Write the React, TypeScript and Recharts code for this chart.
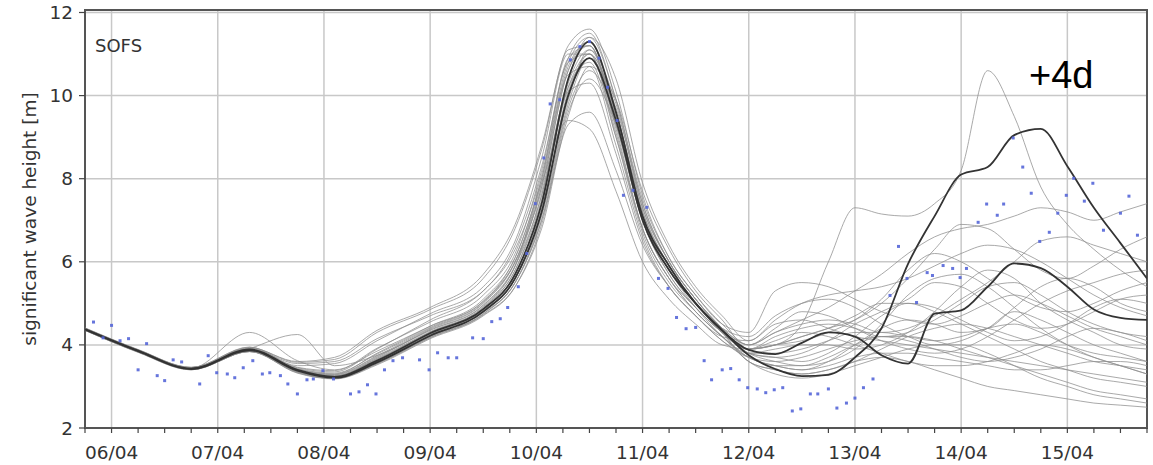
import React from 'react';
import { ComposedChart, Line, Scatter, XAxis, YAxis, CartesianGrid, ReferenceArea, ReferenceLine } from 'recharts';

// time axis in days of April (fractional)
const times = [5.75, 6.25, 6.75, 7.3, 7.75, 8.1, 8.5, 9.0, 9.5, 9.8, 10.05, 10.3, 10.5, 10.75, 11.0, 11.25, 11.5, 11.75,
  12.0, 12.25, 12.5, 12.75, 13.0, 13.25, 13.5, 13.75, 14.0, 14.25, 14.5, 14.75, 15.0, 15.25, 15.5, 15.75];

// ensemble members (significant wave height, m)
const m01 = [4.40, 3.88, 3.45, 3.93, 3.60, 3.70, 4.35, 4.90, 5.70, 6.9, 8.8, 11.2, 11.6, 10.1, 7.6, 6.1, 5.2, 4.5, 4.3, 5.3, 5.5, 5.4, 5.1, 4.8, 4.6, 4.5, 4.7, 5.0, 5.2, 5.0, 4.7, 4.4, 4.2, 4.0];
const m02 = [4.38, 3.86, 3.43, 3.90, 3.45, 3.35, 3.90, 4.60, 5.30, 6.3, 8.1, 10.8, 11.4, 9.9, 7.4, 6.0, 5.1, 4.4, 4.2, 4.7, 5.0, 5.1, 4.9, 4.5, 4.2, 4.0, 4.1, 4.4, 4.8, 4.6, 4.3, 4.0, 3.8, 3.6];
const m03 = [4.36, 3.84, 3.42, 3.87, 3.40, 3.25, 3.65, 4.30, 4.90, 5.8, 7.6, 10.2, 11.0, 9.6, 7.1, 5.8, 5.0, 4.3, 3.9, 4.0, 4.5, 6.0, 7.3, 7.15, 7.1, 7.4, 8.2, 10.6, 9.5, 7.8, 6.9, 6.3, 5.8, 5.4];
const m04 = [4.37, 3.85, 3.43, 3.88, 3.38, 3.22, 3.60, 4.25, 4.82, 5.6, 7.3, 9.9, 11.1, 9.8, 7.3, 6.0, 5.1, 4.4, 4.0, 4.3, 4.6, 4.9, 5.3, 5.7, 6.2, 6.6, 6.8, 6.9, 7.1, 7.3, 7.2, 7.0, 7.2, 7.4];
const m05 = [4.35, 3.83, 3.41, 3.85, 3.35, 3.20, 3.56, 4.20, 4.75, 5.5, 7.0, 9.5, 10.7, 9.9, 7.7, 6.3, 5.3, 4.6, 3.9, 4.0, 4.2, 4.4, 4.6, 5.0, 5.6, 6.3, 6.9, 6.8, 6.3, 5.8, 5.6, 5.9, 6.3, 6.6];
const m06 = [4.39, 3.87, 3.44, 3.91, 4.25, 3.50, 3.75, 4.35, 4.95, 5.9, 7.8, 10.6, 11.3, 9.5, 7.0, 5.7, 4.9, 4.3, 3.8, 3.7, 3.8, 4.1, 4.5, 4.8, 5.1, 5.5, 5.4, 5.0, 4.6, 4.4, 4.5, 4.8, 5.1, 5.2];
const m07 = [4.38, 3.86, 3.44, 4.30, 3.62, 3.40, 3.85, 4.45, 5.05, 6.1, 8.0, 10.9, 11.2, 9.2, 6.8, 5.6, 4.8, 4.2, 3.7, 3.5, 3.4, 3.6, 4.0, 4.4, 4.6, 4.5, 4.3, 4.4, 4.9, 5.4, 5.6, 5.4, 5.0, 4.8];
const m08 = [4.36, 3.84, 3.41, 3.84, 3.34, 3.19, 3.55, 4.18, 4.72, 5.4, 6.8, 9.3, 9.6, 8.2, 6.4, 5.4, 4.7, 4.2, 4.1, 4.5, 4.6, 4.4, 4.2, 4.1, 4.0, 3.9, 3.8, 3.7, 3.6, 3.5, 3.4, 3.3, 3.2, 3.1];
const m09 = [4.37, 3.85, 3.42, 3.86, 3.37, 3.24, 3.68, 4.32, 4.92, 5.9, 7.9, 9.4, 9.2, 7.7, 6.0, 5.1, 4.5, 4.0, 3.9, 4.2, 4.4, 4.5, 4.4, 4.2, 4.3, 4.6, 5.0, 5.4, 5.5, 5.2, 4.8, 4.5, 4.3, 4.2];
const m10 = [4.41, 3.89, 3.46, 3.95, 3.50, 3.55, 4.10, 4.75, 5.40, 6.5, 8.5, 11.0, 11.0, 9.0, 6.7, 5.5, 4.8, 4.2, 3.8, 3.9, 4.0, 4.0, 3.9, 4.0, 4.3, 4.8, 5.4, 5.8, 5.6, 5.0, 4.6, 4.3, 4.0, 3.9];
const m11 = [4.35, 3.82, 3.40, 3.84, 3.32, 3.18, 3.52, 4.15, 4.70, 5.4, 6.9, 9.6, 10.4, 9.3, 7.2, 5.9, 5.0, 4.3, 3.6, 3.4, 3.3, 3.4, 3.6, 3.9, 4.2, 4.4, 4.5, 4.4, 4.2, 4.0, 3.8, 3.6, 3.5, 3.4];
const m12 = [4.38, 3.86, 3.43, 3.89, 3.42, 3.30, 3.80, 4.45, 5.10, 6.1, 8.0, 10.5, 10.7, 8.8, 6.6, 5.4, 4.7, 4.1, 3.7, 3.6, 3.7, 3.9, 4.1, 4.2, 4.1, 3.9, 3.7, 3.6, 3.7, 3.9, 4.2, 4.4, 4.3, 4.1];
const m13 = [4.40, 3.88, 3.45, 3.92, 3.55, 3.60, 4.15, 4.70, 5.30, 6.4, 8.3, 10.9, 11.5, 9.9, 7.5, 6.1, 5.2, 4.5, 4.0, 4.4, 4.8, 4.7, 4.4, 4.1, 3.9, 3.8, 3.9, 4.2, 4.6, 5.0, 5.3, 5.5, 5.7, 5.8];
const m14 = [4.36, 3.84, 3.42, 3.86, 3.36, 3.21, 3.60, 4.24, 4.80, 5.6, 7.2, 10.0, 11.0, 9.6, 7.2, 5.9, 5.0, 4.3, 3.8, 3.6, 3.5, 3.6, 3.9, 4.5, 5.2, 5.6, 5.7, 5.4, 4.9, 4.4, 4.0, 3.7, 3.5, 3.3];
const m15 = [4.37, 3.85, 3.43, 3.88, 3.39, 3.26, 3.70, 4.38, 5.00, 6.0, 7.9, 10.7, 11.3, 9.6, 7.1, 5.8, 5.0, 4.3, 3.9, 4.1, 4.3, 4.2, 4.0, 3.8, 3.6, 3.5, 3.5, 3.6, 3.8, 4.0, 3.9, 3.7, 3.5, 3.3];
const m16 = [4.39, 3.87, 3.44, 3.90, 3.43, 3.32, 3.78, 4.42, 5.05, 6.0, 7.7, 10.1, 10.3, 8.6, 6.5, 5.4, 4.7, 4.1, 3.7, 3.5, 3.5, 3.7, 4.0, 4.2, 4.2, 4.1, 3.9, 3.7, 3.5, 3.3, 3.1, 2.9, 2.8, 2.7];
const m17 = [4.38, 3.86, 3.44, 3.89, 3.40, 3.28, 3.72, 4.36, 4.96, 5.9, 7.6, 10.4, 11.4, 10.4, 7.9, 6.4, 5.4, 4.7, 4.1, 4.6, 5.0, 5.2, 5.3, 5.4, 5.6, 5.9, 6.2, 6.4, 6.3, 6.0, 5.6, 5.2, 4.9, 4.7];
const m18 = [4.36, 3.83, 3.41, 3.85, 3.35, 3.20, 3.58, 4.22, 4.78, 5.5, 7.1, 9.8, 10.9, 9.7, 7.4, 6.0, 5.1, 4.4, 3.8, 3.8, 3.9, 4.1, 4.3, 4.3, 4.2, 4.1, 4.2, 4.4, 4.5, 4.3, 4.0, 3.8, 3.7, 3.6];
const m19 = [4.37, 3.85, 3.43, 3.87, 3.38, 3.23, 3.63, 4.28, 4.86, 5.7, 7.4, 10.2, 10.8, 9.0, 6.8, 5.6, 4.8, 4.2, 3.6, 3.3, 3.2, 3.3, 3.5, 3.7, 3.9, 4.0, 4.0, 3.8, 3.5, 3.2, 3.0, 2.8, 2.7, 2.6];
const m20 = [4.40, 3.88, 3.46, 3.94, 3.58, 3.65, 4.30, 4.85, 5.60, 6.8, 8.7, 11.1, 11.2, 9.3, 7.0, 5.7, 4.9, 4.3, 3.9, 4.0, 4.1, 4.3, 4.6, 5.1, 5.8, 6.2, 6.0, 5.6, 5.2, 4.9, 4.8, 5.0, 5.3, 5.5];
const m21 = [4.35, 3.83, 3.40, 3.84, 3.33, 3.19, 3.54, 4.17, 4.74, 5.5, 7.0, 9.7, 10.6, 9.5, 7.3, 6.0, 5.1, 4.4, 3.8, 3.7, 3.6, 3.8, 4.2, 4.7, 5.0, 4.9, 4.6, 4.3, 4.1, 4.2, 4.5, 4.9, 5.1, 5.0];
const m22 = [4.38, 3.86, 3.43, 3.89, 3.41, 3.29, 3.74, 4.40, 5.02, 6.0, 7.8, 10.6, 11.2, 9.4, 7.0, 5.8, 5.0, 4.4, 4.0, 4.3, 4.5, 4.6, 4.5, 4.3, 4.4, 4.7, 5.1, 5.5, 6.0, 6.5, 6.6, 6.4, 6.2, 6.0];
const m23 = [4.36, 3.84, 3.42, 3.86, 3.37, 3.22, 3.62, 4.26, 4.83, 5.6, 7.2, 10.1, 10.9, 9.3, 7.0, 5.8, 4.9, 4.2, 3.7, 3.5, 3.4, 3.5, 3.7, 3.8, 3.8, 3.7, 3.6, 3.5, 3.4, 3.4, 3.5, 3.6, 3.6, 3.5];
const m24 = [4.39, 3.87, 3.45, 3.91, 3.46, 3.38, 3.92, 4.55, 5.20, 6.2, 8.2, 10.8, 11.0, 9.1, 6.8, 5.6, 4.9, 4.3, 3.9, 4.0, 4.2, 4.4, 4.7, 5.0, 5.0, 4.8, 4.5, 4.2, 3.9, 3.6, 3.4, 3.2, 3.1, 3.0];
const m25 = [4.37, 3.85, 3.42, 3.87, 3.39, 3.25, 3.66, 4.30, 4.88, 5.8, 7.5, 10.3, 11.1, 9.5, 7.1, 5.8, 5.0, 4.3, 3.6, 3.4, 3.3, 3.4, 3.6, 3.7, 3.6, 3.4, 3.2, 3.0, 2.9, 2.8, 2.7, 2.6, 2.55, 2.5];

// two highlighted (dark) runs
const darkA = [4.38, 3.86, 3.43, 3.89, 3.40, 3.23, 3.62, 4.28, 4.86, 5.7, 7.4, 10.4, 11.3, 9.6, 7.1, 5.9, 5.0, 4.35, 3.75, 3.42, 3.25, 3.28, 3.7, 4.4, 5.95, 7.1, 8.1, 8.28, 9.05, 9.2, 8.3, 7.3, 6.45, 5.6];
const darkB = [4.37, 3.85, 3.42, 3.87, 3.38, 3.21, 3.58, 4.22, 4.80, 5.6, 7.2, 10.0, 10.9, 9.4, 7.0, 5.8, 5.0, 4.35, 3.88, 3.78, 4.05, 4.3, 4.2, 3.75, 3.55, 4.75, 4.83, 5.4, 5.96, 5.85, 5.4, 4.85, 4.65, 4.6];

// observations
const obsTimes = [5.83, 5.92, 6.00, 6.08, 6.16, 6.25, 6.33, 6.43, 6.50, 6.58, 6.66, 6.83, 6.91, 6.99, 7.09, 7.16, 7.24, 7.33, 7.42, 7.49,
  7.59, 7.66, 7.75, 7.84, 7.90, 7.99, 8.09, 8.25, 8.33, 8.41, 8.49, 8.57, 8.65, 8.74, 8.90, 8.99, 9.07, 9.17, 9.25, 9.40,
  9.50, 9.58, 9.66, 9.73, 9.83, 9.91, 9.99, 10.07, 10.13, 10.22, 10.32, 10.41, 10.50, 10.59, 10.67, 10.76, 10.82, 10.91, 11.04, 11.15,
  11.24, 11.32, 11.41, 11.50, 11.58, 11.65, 11.75, 11.83, 11.91, 11.99, 12.08, 12.16, 12.24, 12.32, 12.41, 12.49, 12.58, 12.65, 12.75, 12.83,
  12.92, 13.00, 13.08, 13.17, 13.33, 13.41, 13.49, 13.58, 13.68, 13.73, 13.83, 13.92, 13.99, 14.05, 14.16, 14.24, 14.34, 14.40, 14.49, 14.58,
  14.66, 14.74, 14.83, 14.91, 14.99, 15.06, 15.16, 15.24, 15.34, 15.50, 15.58, 15.66];
const obsValues = [4.55, 4.17, 4.47, 4.10, 4.15, 3.40, 4.03, 3.26, 3.14, 3.64, 3.59, 3.06, 3.74, 3.33, 3.30, 3.21, 3.45, 3.62, 3.30, 3.33,
  3.26, 3.06, 2.82, 3.16, 3.18, 3.38, 3.18, 2.82, 2.87, 3.04, 2.82, 3.40, 3.62, 3.69, 3.64, 3.40, 3.81, 3.69, 3.69, 4.17,
  4.15, 4.56, 4.63, 4.90, 5.40, 6.20, 7.40, 8.50, 9.80, 9.90, 10.86, 11.18, 11.30, 10.90, 10.20, 9.40, 7.60, 7.72, 7.31, 5.60,
  5.36, 4.66, 4.39, 4.42, 3.62, 3.16, 3.40, 3.43, 3.16, 2.97, 2.94, 2.85, 2.92, 2.97, 2.41, 2.46, 2.82, 2.82, 2.94, 2.48,
  2.60, 2.72, 2.97, 3.18, 5.19, 6.37, 5.60, 5.02, 5.74, 5.67, 5.91, 5.84, 5.62, 5.84, 6.95, 7.39, 7.12, 7.39, 8.98, 8.28,
  7.65, 6.49, 6.71, 7.17, 7.60, 8.01, 7.46, 7.89, 6.76, 7.17, 7.58, 6.64];

// axes
const xTickDays = [6, 7, 8, 9, 10, 11, 12, 13, 14, 15];
const xTickLabels = ['06/04', '07/04', '08/04', '09/04', '10/04', '11/04', '12/04', '13/04', '14/04', '15/04'];
const yTicks = [2, 4, 6, 8, 10, 12];
const xDomain = [5.75, 15.75];
const yDomain = [2, 12.06];

const members = [m01, m02, m03, m04, m05, m06, m07, m08, m09, m10, m11, m12, m13, m14, m15, m16, m17, m18, m19, m20, m21, m22, m23, m24, m25];

const rows = times.map((t, i) => {
  const r: Record<string, number> = { t };
  members.forEach((m, k) => { r['m' + k] = m[i]; });
  r.A = darkA[i];
  r.B = darkB[i];
  return r;
});
const obs = obsTimes.map((t, i) => ({ t, v: obsValues[i] }));

// quarter-day tick marks (6-hourly), labels only on whole days
const xAllTicks = Array.from({ length: 41 }, (_, i) => xDomain[0] + i * 0.25);
const fmtX = (v: number) => {
  const i = xTickDays.indexOf(v);
  return i >= 0 ? xTickLabels[i] : '';
};

const FONT = '"DejaVu Sans", sans-serif';

const ObsMark = (p: any) => {
  if (p.cx == null || p.cy == null) return <g />;
  return <rect x={p.cx - 1.5} y={p.cy - 1.5} width={3} height={3} fill="#5566d8" fillOpacity={0.9} />;
};

export default function App() {
  return (
    <div style={{ position: 'absolute', left: 0, top: 0, width: 1153, height: 465, background: '#fff' }}>
      <ComposedChart width={1153} height={465} data={rows} margin={{ top: 10, right: 6, bottom: 7, left: 0 }}>
        <CartesianGrid vertical={false} stroke="#c8c8c8" strokeWidth={1.5} />
        {xTickDays.map((d) => (
          <ReferenceLine key={'g' + d} x={d} stroke="#c8c8c8" strokeWidth={1.5} zIndex={-50} />
        ))}
        <XAxis
          dataKey="t"
          type="number"
          domain={xDomain}
          allowDataOverflow
          ticks={xAllTicks}
          interval={0}
          tickFormatter={fmtX}
          tickSize={5}
          tickMargin={13}
          axisLine={false}
          tickLine={{ stroke: '#444', strokeWidth: 1.2 }}
          tick={{ fill: '#333', fontSize: 18.5, fontFamily: FONT }}
          height={30}
        />
        <YAxis
          type="number"
          domain={yDomain}
          allowDataOverflow
          ticks={yTicks}
          interval={0}
          tickSize={6}
          tickMargin={6}
          axisLine={false}
          tickLine={{ stroke: '#444', strokeWidth: 1.2 }}
          tick={{ fill: '#333', fontSize: 18.5, fontFamily: FONT }}
          width={85}
        />
        {members.map((_, k) => (
          <Line
            key={'m' + k}
            dataKey={'m' + k}
            type="monotone"
            stroke="#8e8e8e"
            strokeWidth={0.9}
            strokeOpacity={0.85}
            dot={false}
            activeDot={false}
            isAnimationActive={false}
          />
        ))}
        <Line dataKey="B" type="monotone" stroke="#333" strokeWidth={1.8} dot={false} activeDot={false} isAnimationActive={false} />
        <Line dataKey="A" type="monotone" stroke="#333" strokeWidth={1.8} dot={false} activeDot={false} isAnimationActive={false} />
        <Scatter data={obs} dataKey="v" fill="#5566d8" shape={ObsMark} isAnimationActive={false} />
        <ReferenceArea x1={xDomain[0]} x2={xDomain[1]} y1={yDomain[0]} y2={yDomain[1]} fill="none" fillOpacity={0} stroke="#555" strokeWidth={2} />
      </ComposedChart>
      <svg width={1153} height={465} style={{ position: 'absolute', left: 0, top: 0, pointerEvents: 'none' }}>
        <text x={95} y={52} fontSize={18} fontFamily={FONT} fill="#333">SOFS</text>
        <text x={1029} y={88} fontSize={38} fontFamily='"Liberation Sans", Arial, sans-serif' fill="#000">+4d</text>
        <text x={36} y={219} transform="rotate(-90 36 219)" textAnchor="middle" fontSize={18.5} fontFamily={FONT} fill="#333">
          significant wave height [m]
        </text>
      </svg>
    </div>
  );
}
